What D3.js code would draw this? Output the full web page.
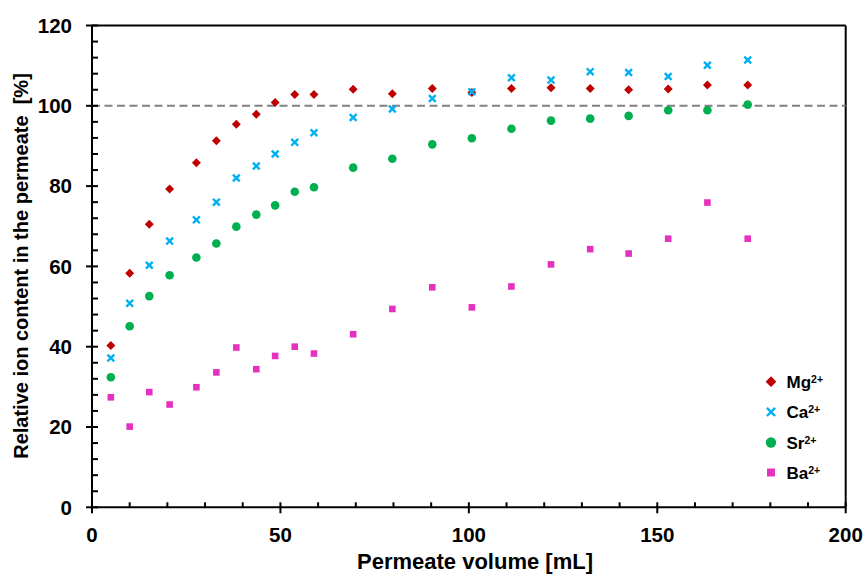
<!DOCTYPE html>
<html>
<head>
<meta charset="utf-8">
<script src="https://cdn.jsdelivr.net/npm/d3@7"></script>
<style>
  html, body { margin: 0; padding: 0; background: #fff; }
  svg { display: block; font-family: Arial, "Liberation Sans", sans-serif; }
</style>
</head>
<body>
<svg id="chart" width="866" height="583"></svg>
<script>
// Permeate volume [mL] at each sampling point
const volume = [5, 10, 15.2, 20.6, 27.7, 33, 38.3, 43.6, 48.6, 53.8, 58.9, 69.3, 79.7, 90.3, 100.8, 111.3, 121.8, 132.2, 142.4, 152.9, 163.3, 174];

// Relative ion content in the permeate [%]
const mg = [40.3, 58.3, 70.5, 79.3, 85.8, 91.3, 95.4, 97.9, 100.8, 102.8, 102.8, 104.1, 103.0, 104.3, 103.3, 104.3, 104.5, 104.3, 104.0, 104.2, 105.2, 105.2];
const ca = [37.2, 50.8, 60.3, 66.3, 71.6, 76.0, 82.0, 85.0, 88.0, 90.9, 93.3, 97.1, 99.2, 101.8, 103.5, 107.0, 106.4, 108.5, 108.3, 107.3, 110.1, 111.4];
const sr = [32.4, 45.1, 52.6, 57.8, 62.2, 65.7, 69.9, 72.9, 75.2, 78.6, 79.7, 84.6, 86.8, 90.4, 91.9, 94.3, 96.3, 96.8, 97.5, 98.9, 98.9, 100.3];
const ba = [27.4, 20.1, 28.7, 25.6, 29.9, 33.6, 39.8, 34.4, 37.7, 40.0, 38.3, 43.1, 49.4, 54.8, 49.8, 55.0, 60.5, 64.3, 63.2, 66.9, 75.9, 66.9];

const seriesNames = ["Mg", "Ca", "Sr", "Ba"];
const xTicks = [0, 50, 100, 150, 200];
const yTicks = [0, 20, 40, 60, 80, 100, 120];
const referenceLevel = 100;

const series = [
  { name: seriesNames[0], values: mg, color: "#C00000", shape: "diamond" },
  { name: seriesNames[1], values: ca, color: "#00B0F0", shape: "cross" },
  { name: seriesNames[2], values: sr, color: "#00B050", shape: "circle" },
  { name: seriesNames[3], values: ba, color: "#E531C0", shape: "square" }
];

const W = 866, H = 583;
const margin = { top: 25.5, right: 20.3, bottom: 75.7, left: 92 };
const svg = d3.select("#chart");

const x = d3.scaleLinear().domain([0, 200]).range([margin.left, W - margin.right]);
const y = d3.scaleLinear().domain([0, 120]).range([H - margin.bottom, margin.top]);

// marker drawing
function drawMarker(g, shape, color, k = 1) {
  if (shape === "diamond") {
    g.append("path").attr("d", d3.symbol(d3.symbolSquare, 40 * k * k)()).attr("transform", "rotate(45)").attr("fill", color);
  } else if (shape === "circle") {
    g.append("circle").attr("r", 4.3 * k).attr("fill", color);
  } else if (shape === "square") {
    const s = 6.6 * k;
    g.append("rect").attr("x", -s / 2).attr("y", -s / 2).attr("width", s).attr("height", s).attr("fill", color);
  } else if (shape === "cross") {
    const a = 3.4 * k;
    g.append("path").attr("d", `M${-a},${-a}L${a},${a}M${-a},${a}L${a},${-a}`)
      .attr("stroke", color).attr("stroke-width", 2.4).attr("fill", "none");
  }
}

// plot frame: top and right borders
svg.append("line").attr("x1", x(0)).attr("x2", x(200)).attr("y1", y(120)).attr("y2", y(120))
  .attr("stroke", "#000").attr("stroke-width", 2);
svg.append("line").attr("x1", x(200)).attr("x2", x(200)).attr("y1", y(0)).attr("y2", y(120))
  .attr("stroke", "#000").attr("stroke-width", 2);

// 100 % reference line
svg.append("line").attr("x1", x(0)).attr("x2", x(200)).attr("y1", y(referenceLevel)).attr("y2", y(referenceLevel))
  .attr("stroke", "#808080").attr("stroke-width", 2).attr("stroke-dasharray", "8,4.5");

// Y axis
const yAxisG = svg.append("g");
yAxisG.append("line").attr("x1", x(0)).attr("x2", x(0)).attr("y1", y(0)).attr("y2", y(120))
  .attr("stroke", "#000").attr("stroke-width", 2);
d3.range(0, 121, 4).forEach(v => {
  const major = v % 20 === 0;
  yAxisG.append("line")
    .attr("x1", major ? x(0) - 6 : x(0)).attr("x2", x(0) + 6)
    .attr("y1", y(v)).attr("y2", y(v))
    .attr("stroke", "#000").attr("stroke-width", 2);
});
yAxisG.selectAll("text.ytick").data(yTicks).join("text")
  .attr("class", "ytick")
  .attr("x", x(0) - 20).attr("y", d => y(d)).attr("dy", "0.36em")
  .attr("text-anchor", "end").attr("font-size", 20.5).attr("font-weight", "bold")
  .text(d => d);

// X axis
const xAxisG = svg.append("g");
xAxisG.append("line").attr("x1", x(0)).attr("x2", x(200)).attr("y1", y(0)).attr("y2", y(0))
  .attr("stroke", "#000").attr("stroke-width", 2);
d3.range(0, 201, 10).forEach(v => {
  const major = v % 50 === 0;
  xAxisG.append("line")
    .attr("x1", x(v)).attr("x2", x(v))
    .attr("y1", y(0) - 5).attr("y2", major ? y(0) + 6 : y(0))
    .attr("stroke", "#000").attr("stroke-width", 2);
});
xAxisG.selectAll("text.xtick").data(xTicks).join("text")
  .attr("class", "xtick")
  .attr("x", d => x(d)).attr("y", 542)
  .attr("text-anchor", "middle").attr("font-size", 20.5).attr("font-weight", "bold")
  .text(d => d);

// axis titles
svg.append("text")
  .attr("x", 475).attr("y", 568.5)
  .attr("text-anchor", "middle").attr("font-size", 22).attr("font-weight", "bold")
  .text("Permeate volume [mL]");
svg.append("text")
  .attr("transform", `translate(28,266) rotate(-90)`)
  .attr("text-anchor", "middle").attr("font-size", 20).attr("font-weight", "bold")
  .attr("xml:space", "preserve")
  .text("Relative ion content in the permeate  [%]");

// data points
series.forEach(s => {
  const g = svg.append("g");
  s.values.forEach((v, i) => {
    const m = g.append("g").attr("transform", `translate(${x(volume[i])},${y(v)})`);
    drawMarker(m, s.shape, s.color);
  });
});

// legend
const legendRows = [381.7, 411.9, 442.5, 472.5];
const legend = svg.append("g").attr("transform", "translate(771,0)");
series.forEach((s, i) => {
  const row = legend.append("g").attr("transform", `translate(0,${legendRows[i]})`);
  drawMarker(row, s.shape, s.color, 1.2);
  const t = row.append("text").attr("x", 15.5).attr("dy", "0.36em")
    .attr("font-size", 17).attr("font-weight", "bold");
  t.append("tspan").text(s.name);
  t.append("tspan").attr("font-size", 10.5).attr("dy", -4.6).text("2+");
});
</script>
</body>
</html>
